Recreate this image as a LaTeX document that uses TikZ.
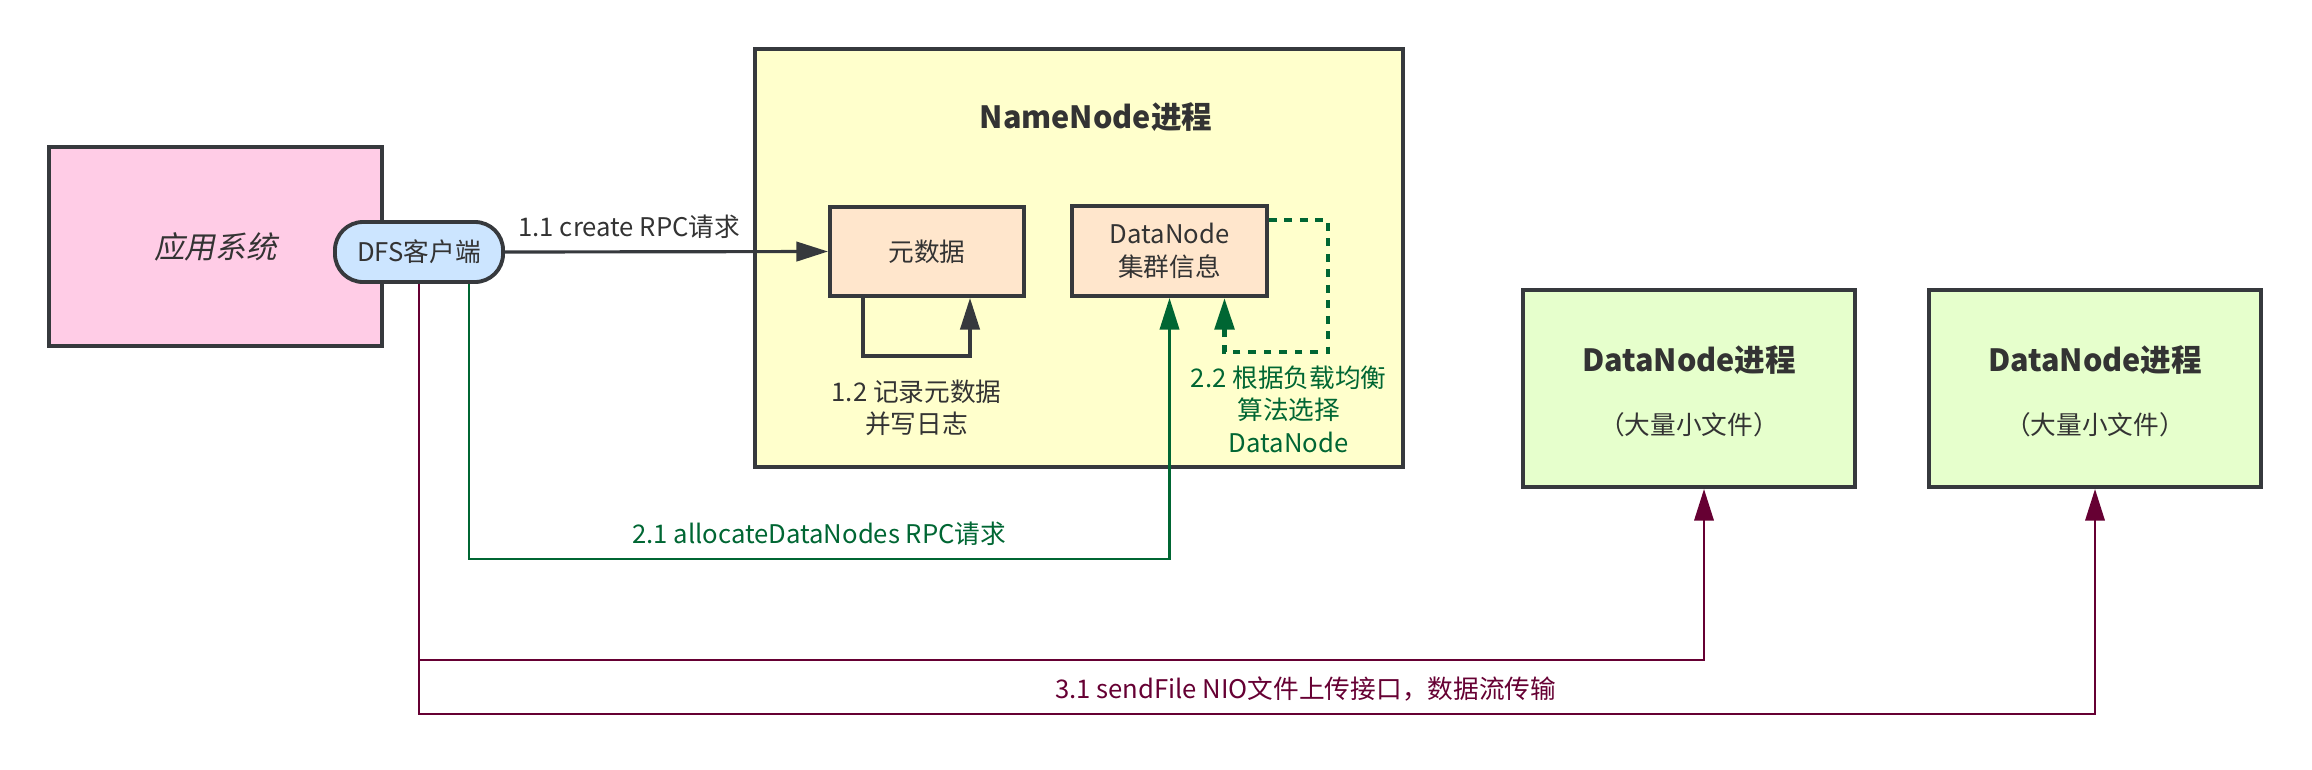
\documentclass[tikz,border=0pt]{standalone}
\usepackage{fontspec}
\setmainfont{Noto Sans CJK SC}
\newfontfamily\slantcjk{Noto Sans CJK SC}[FakeSlant=0.2]
\usepackage{tikz}
\usetikzlibrary{arrows.meta, positioning, calc}

\definecolor{edge}{HTML}{36393D}
\definecolor{txt}{HTML}{333333}
\definecolor{pinkfill}{HTML}{FFCCE6}
\definecolor{bluefill}{HTML}{CCE5FF}
\definecolor{yellowfill}{HTML}{FFFFCC}
\definecolor{orangefill}{HTML}{FFE6CC}
\definecolor{greenfill}{HTML}{E6FFCC}
\definecolor{dgreen}{HTML}{006633}
\definecolor{dpurple}{HTML}{660033}

\tikzset{
    box/.style={draw=edge, line width=1.1pt, text=txt, align=center, inner sep=0pt,
        font=\fontsize{7.3}{9.2}\selectfont},
    lbl/.style={text=txt, align=center, font=\fontsize{7.3}{9.2}\selectfont},
    heading/.style={text=txt, font=\bfseries\fontsize{8.7}{10}\selectfont},
    arr/.style={-{Triangle[length=9pt,width=5.5pt]}, line width=0.9pt},
}

\begin{document}
\begin{tikzpicture}[x=0.01cm, y=-0.01cm]
    \useasboundingbox (0,0) rectangle (2312,769);
    \node[box, fill=pinkfill, minimum width=3.33cm, minimum height=1.99cm,
        font=\slantcjk\fontsize{8.7}{10}\selectfont] (app) at (215.5,246.5) {应用系统};
    \node[box, fill=bluefill, rounded corners=8pt, minimum width=1.68cm, minimum height=0.6cm] (client) at (419,252) {DFS客户端};
    \node[box, fill=yellowfill, minimum width=6.48cm, minimum height=4.18cm] (namenode) at (1079,258) {};
    \node[heading] (nntitle) at (1096,117) {NameNode进程};
    \node[box, fill=orangefill, minimum width=1.94cm, minimum height=0.89cm] (meta) at (927,251.5) {元数据};
    \node[box, fill=orangefill, minimum width=1.95cm, minimum height=0.9cm] (dninfo) at (1169.5,251) {DataNode\\集群信息};
    \node[box, fill=greenfill, minimum width=3.32cm, minimum height=1.97cm] (dn1) at (1689,388.5) {};
    \node[heading] (dn1title) at (1689,360) {DataNode进程};
    \node[lbl] (dn1sub) at (1689,425) {（大量小文件）};
    \node[box, fill=greenfill, minimum width=3.32cm, minimum height=1.97cm] (dn2) at (2095,388.5) {};
    \node[heading] (dn2title) at (2095,360) {DataNode进程};
    \node[lbl] (dn2sub) at (2095,425) {（大量小文件）};

    % namenode side
    \draw[arr, edge] (client.east) -- node[lbl, above, pos=0.385] {1.1 create RPC请求} (meta.west);
    \draw[arr, edge] ($(meta.south west)+(35,0)$) -- ++(0,58)
        -| node[lbl, below=3pt, pos=0.25] {1.2 记录元数据\\并写日志} ($(meta.south east)+(-56,0)$);
    \draw[arr, dgreen, line width=1.3pt, dash pattern=on 2.2pt off 2.2pt]
        ($(dninfo.north east)+(0,16)$) -- ++(59,0) -- ++(0,132)
        -| node[lbl, text=dgreen, below=0pt, pos=0.19] {2.2 根据负载均衡\\算法选择\\DataNode} ($(dninfo.south)+(55,0)$);
    \draw[arr, dgreen, line width=0.8pt] ($(client.south)+(50,0)$) -- ++(0,275)
        -| node[lbl, text=dgreen, above, pos=0.25] {2.1 allocateDataNodes RPC请求} (dninfo.south);

    % datanode side
    \draw[arr, dpurple, line width=0.7pt] (client.south) -- ++(0,376) -| ($(dn1.south)+(15,0)$);
    \draw[arr, dpurple, line width=0.7pt] (client.south) -- ++(0,430)
        -| node[lbl, text=dpurple, above, pos=0.2645] {3.1 sendFile NIO文件上传接口，数据流传输} (dn2.south);
\end{tikzpicture}
\end{document}
